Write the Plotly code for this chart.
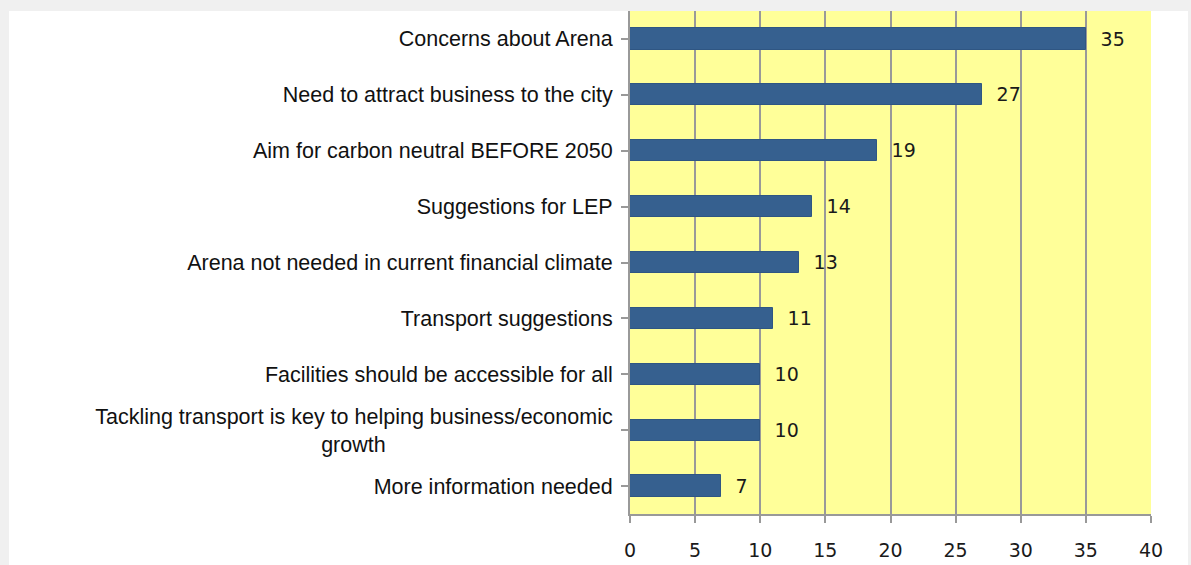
import plotly.graph_objects as go

# Comment themes and the number of responses for each
themes = [
    "Concerns about Arena",
    "Need to attract business to the city",
    "Aim for carbon neutral BEFORE 2050",
    "Suggestions for LEP",
    "Arena not needed in current financial climate",
    "Transport suggestions",
    "Facilities should be accessible for all",
    "Tackling transport is key to helping business/economic<br>growth" + "\u00a0" * 38,
    "More information needed",
]
counts = [35, 27, 19, 14, 13, 11, 10, 10, 7]
x_ticks = [0, 5, 10, 15, 20, 25, 30, 35, 40]

W, H = 1191, 565
L, R, T, B = 630, 40, 11, 51
PW, PH = W - L - R, H - T - B

fig = go.Figure(
    go.Bar(
        x=counts,
        y=list(range(len(themes))),
        orientation="h",
        width=0.38,
        marker=dict(color="#36608f", line=dict(color="#2f5683", width=1)),
        text=counts,
        texttemplate="\u00a0\u00a0%{x}",
        textposition="outside",
        constraintext="none",
        cliponaxis=False,
        textfont=dict(family="DejaVu Sans", size=19, color="#1a1a1a"),
        hoverinfo="skip",
    )
)

grid_col = "#999999"

fig.update_layout(
    width=W,
    height=H,
    margin=dict(l=L, r=R, t=T, b=B, autoexpand=False),
    paper_bgcolor="#f0f0f0",
    plot_bgcolor="#ffff99",
    showlegend=False,
    bargap=0,
    shapes=[
        # white chart panel
        dict(
            type="rect", xref="paper", yref="paper", layer="below",
            x0=(9 - L) / PW, x1=(1188 - L) / PW,
            y0=-(B + 10) / PH, y1=1.0,
            fillcolor="white", line=dict(width=0),
        ),
        # yellow plot area on top of the panel
        dict(
            type="rect", xref="paper", yref="paper", layer="below",
            x0=0, x1=1, y0=0, y1=1,
            fillcolor="#ffff99", line=dict(width=0),
        ),
    ],
    xaxis=dict(
        range=[0, 40],
        tickvals=x_ticks,
        ticktext=[str(v) for v in x_ticks],
        showgrid=True,
        gridcolor=grid_col,
        gridwidth=2,
        zeroline=False,
        showline=True,
        linecolor=grid_col,
        linewidth=2,
        ticks="outside",
        ticklen=7,
        tickwidth=2,
        tickcolor=grid_col,
        tickfont=dict(family="DejaVu Sans", size=19, color="#1a1a1a"),
        ticklabelstandoff=11,
        automargin=False,
    ),
    yaxis=dict(
        tickmode="array",
        tickvals=list(range(len(themes))),
        ticktext=themes,
        range=[len(themes) - 0.5, -0.5],
        tickson="boundaries",
        showgrid=False,
        zeroline=False,
        showline=True,
        linecolor=grid_col,
        linewidth=2,
        ticks="outside",
        ticklen=7,
        tickwidth=2,
        tickcolor=grid_col,
        tickfont=dict(family="Liberation Sans, Arial", size=21.5, color="#111111"),
        ticklabelstandoff=4,
        automargin=False,
    ),
)

fig.write_html("out.html")
